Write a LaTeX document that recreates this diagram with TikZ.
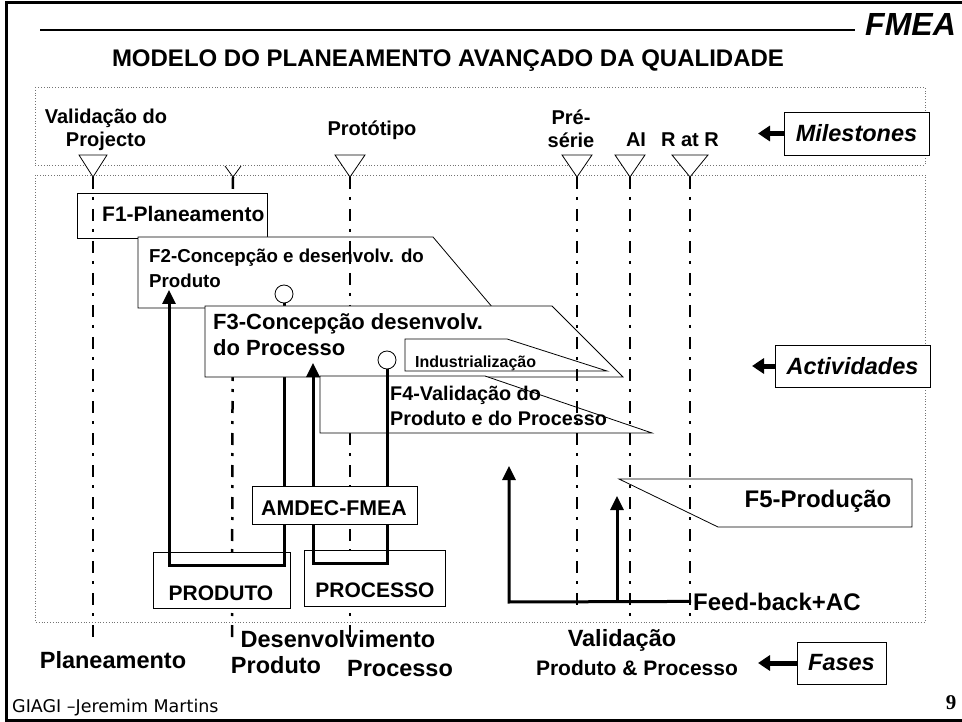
\documentclass[tikz,border=0pt]{standalone}
\usepackage{fontspec}
\setmainfont{Liberation Sans}
\newfontfamily\rodapefont{DejaVu Sans}
\newfontfamily\numerofont{Liberation Serif}
\usetikzlibrary{arrows.meta,positioning}
\newcommand{\tam}[2]{\fontsize{#1}{#2}\selectfont}

\tikzset{
	moldura/.style={line width=3pt},
	regiao/.style={draw=black!55,dotted,line width=0.8pt},
	marco/.style={draw,fill=white,line width=0.8pt},
	tracoponto/.style={line width=2.5pt,dash pattern=on 12pt off 8pt on 3pt off 9pt},
	caixa/.style={draw,fill=white,line width=0.8pt},
	seta/.style={-{Triangle[length=14pt,width=13pt]},line width=3pt},
	setaetiq/.style={-{Triangle[length=12pt,width=15pt]},line width=5pt},
	etiqueta/.style={draw,fill=white,line width=0.8pt,font=\tam{23.5}{27}\bfseries\itshape},
	bolinha/.style={circle,draw,fill=white,line width=0.8pt,minimum size=18pt},
}

\begin{document}
\begin{tikzpicture}[x=1pt,y=-1pt,every node/.style={inner sep=0pt}]
	\useasboundingbox (0,0) rectangle (962,722);

	% moldura e cabecalho
	\draw[moldura] (6,3) rectangle (968,720);
	\coordinate (linhaini) at (40,30);
	\coordinate (linhafim) at (855,30);
	\draw[line width=1.2pt] (linhaini) -- (linhafim);
	\node[anchor=base west,font=\tam{32}{36}\bfseries\itshape] (fmea) at (865,36) {FMEA};
	\node[anchor=base,font=\tam{24}{28}\bfseries] (titulo) at (448,67) {MODELO DO PLANEAMENTO AVANÇADO DA QUALIDADE};
	\node[anchor=base west,font=\rodapefont\tam{17.5}{20}] (rodape) at (12,712) {GIAGI –Jeremim Martins};
	\node[anchor=base,font=\numerofont\bfseries\tam{21}{24}] (pagina) at (951,709) {9};

	% zonas
	\draw[regiao] (35,87) rectangle (925,165);
	\draw[regiao] (35,175) rectangle (925,622);

	% marcos
	\coordinate (marco1) at (93,177);
	\coordinate (marco2) at (233,177);
	\coordinate (marco3) at (350,177);
	\coordinate (marco4) at (577,177);
	\coordinate (marco5) at (630,177);
	\coordinate (marco6) at (690,177);
	\draw[marco] (marco1) -- ++(-14,-22) -- ++(28,0) -- cycle;
	\draw[line width=0.8pt] (marco2) ++(-8,-11) -- (marco2) -- ++(8,-11);
	\draw[marco] (marco3) -- ++(-15,-22) -- ++(30,0) -- cycle;
	\draw[marco] (marco4) -- ++(-15,-22) -- ++(30,0) -- cycle;
	\draw[marco] (marco5) -- ++(-15,-22) -- ++(30,0) -- cycle;
	\draw[marco] (marco6) -- ++(-18,-22) -- ++(36,0) -- cycle;

	\node[anchor=north,align=center,font=\tam{20}{23}\bfseries] (validprojecto) at (106,109) {Validação do\\Projecto};
	\node[anchor=base,font=\tam{20}{23}\bfseries] (prototipo) at (372,136) {Protótipo};
	\node[anchor=north,align=center,font=\tam{20}{23}\bfseries] (preserie) at (571,110) {Pré-\\série};
	\node[anchor=base,font=\tam{20}{23}\bfseries] (ai) at (636,147) {AI};
	\node[anchor=base,font=\tam{20}{23}\bfseries] (ratr) at (690,147) {R at R};

	% etiquetas da direita
	\node[etiqueta,minimum width=145pt,minimum height=43pt] (milestones) at (856.5,133.5) {Milestones};
	\coordinate (pontamil) at (758,133.5);
	\draw[setaetiq] (milestones.west) -- (pontamil);
	\node[etiqueta,minimum width=155pt,minimum height=42pt] (actividades) at (852.5,366) {Actividades};
	\coordinate (pontaact) at (752,366);
	\draw[setaetiq] (actividades.west) -- (pontaact);
	\node[etiqueta,minimum width=89pt,minimum height=42pt] (fases) at (841.5,663) {Fases};
	\coordinate (pontafas) at (758,663);
	\draw[setaetiq] (fases.west) -- (pontafas);

	% linha escondida pelas fases
	\coordinate (fim2) at (232,640);
	\draw[tracoponto] (marco2) -- (fim2);

	% F1 e F2
	\draw[caixa] (77,193) rectangle (267,238);
	\node[anchor=base west,font=\tam{21}{25}\bfseries] (f1) at (102,222) {F1-Planeamento};
	\draw[caixa] (138,237) -- (433,237) -- (493,308) -- (138,308) -- cycle;
	\node[anchor=north west,align=left,font=\tam{18.7}{25}\bfseries] (f2) at (149,249) {F2-Concepção e desenvolv. do\\Produto};

	\coordinate (fim1) at (93,640);
	\coordinate (fim3) at (350,640);
	\draw[tracoponto] (marco1) -- (fim1);
	\draw[tracoponto] (marco3) -- (fim3);

	% produto e processo
	\draw[caixa] (153,552) rectangle (290,608);
	\node[anchor=base,font=\tam{21}{25}\bfseries] (produto) at (221,600) {PRODUTO};
	\draw[caixa] (304,550) rectangle (445,606);
	\node[anchor=base,font=\tam{21}{25}\bfseries] (processo) at (375,597) {PROCESSO};

	\node[bolinha] (bolinha1) at (284,294) {};
	\coordinate (u1dir) at (284,565);
	\coordinate (u1esq) at (169,565);
	\coordinate (u1seta) at (169,290);
	\draw[seta] (bolinha1.south) -- (u1dir) -- (u1esq) -- (u1seta);

	% F3 e F4
	\draw[caixa] (205,306) -- (552,306) -- (623,377) -- (205,377) -- cycle;
	\node[anchor=north west,align=left,font=\tam{22}{26}\bfseries] (f3) at (213,313) {F3-Concepção desenvolv.\\do Processo};
	\draw[caixa] (405,339) -- (507,339) -- (607,371) -- (405,371) -- cycle;
	\node[anchor=base west,font=\tam{16}{18}\bfseries] (industrial) at (415,367) {Industrialização};
	\draw[caixa] (320,376) -- (485,376) -- (652,433) -- (320,433) -- cycle;
	\node[anchor=north west,align=left,font=\tam{19.8}{25}\bfseries] (f4) at (390,386) {F4-Validação do\\Produto e do Processo};

	\node[bolinha] (bolinha2) at (387,360) {};
	\coordinate (u2dir) at (387,563);
	\coordinate (u2esq) at (313,563);
	\coordinate (u2seta) at (313,363);
	\draw[seta] (bolinha2.south) -- (u2dir) -- (u2esq) -- (u2seta);

	\draw[caixa] (252,486) rectangle (417,524);
	\node[anchor=base,font=\tam{21.3}{25}\bfseries] (amdec) at (334,515) {AMDEC-FMEA};

	% F5
	\draw[caixa] (619,479) -- (912,479) -- (912,527) -- (718,527) -- cycle;
	\node[anchor=base,font=\tam{24}{28}\bfseries] (f5) at (818,507) {F5-Produção};

	\coordinate (fim4) at (577,612);
	\coordinate (fim5) at (630,620);
	\coordinate (fim6) at (690,622);
	\draw[tracoponto] (marco4) -- (fim4);
	\draw[tracoponto] (marco5) -- (fim5);
	\draw[tracoponto] (marco6) -- (fim6);

	% feed-back
	\node[anchor=base west,inner sep=2pt,font=\tam{24}{28}\bfseries] (feedback) at (691,610) {Feed-back+AC};
	\coordinate (fbesq) at (509,602);
	\coordinate (fbseta1) at (509,466);
	\coordinate (fbmeio) at (617,602);
	\coordinate (fbseta2) at (617,496);
	\draw[seta] (feedback.west) -- (fbesq) -- (fbseta1);
	\draw[seta] (fbmeio) -- (fbseta2);

	% fases
	\node[anchor=base,font=\tam{23.5}{27}\bfseries] (planeamento) at (113,668) {Planeamento};
	\node[anchor=base,font=\tam{23.5}{27}\bfseries] (desenvolvimento) at (338,647) {Desenvolvimento};
	\node[anchor=base,font=\tam{23.5}{27}\bfseries] (fasproduto) at (276,673) {Produto};
	\node[anchor=base,font=\tam{23.5}{27}\bfseries] (fasprocesso) at (400,676) {Processo};
	\node[anchor=base,font=\tam{23.5}{27}\bfseries] (validacao) at (622,646) {Validação};
	\node[anchor=base,font=\tam{21}{25}\bfseries] (prodproc) at (637,675) {Produto \& Processo};

\end{tikzpicture}
\end{document}
